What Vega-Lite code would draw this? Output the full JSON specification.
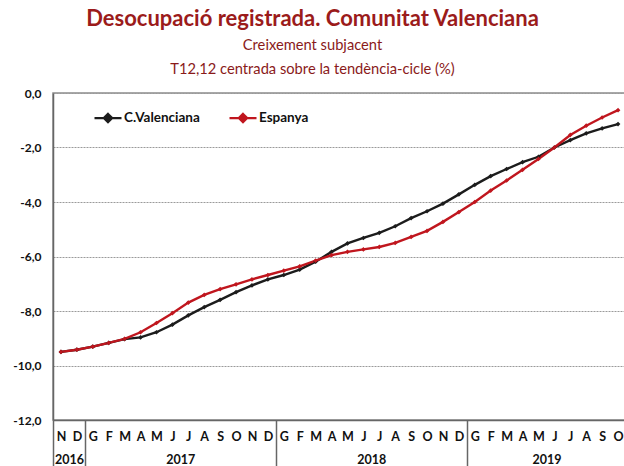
{
  "$schema": "https://vega.github.io/schema/vega-lite/v6.json",
  "width": 573,
  "height": 327,
  "autosize": {"type": "none"},
  "padding": {"left": 53, "top": 93, "right": 0, "bottom": 46},
  "background": "white",
  "title": {
    "text": "Desocupació registrada. Comunitat Valenciana",
    "subtitle": ["Creixement subjacent", "T12,12 centrada sobre la tendència-cicle (%)"],
    "anchor": "middle",
    "dx": -27,
    "font": "Lato",
    "fontSize": 22,
    "fontWeight": "bold",
    "color": "#9b1b1b",
    "subtitleFont": "Lato",
    "subtitleFontSize": 14.7,
    "subtitleColor": "#8a1a1a",
    "subtitleLineHeight": 24,
    "subtitlePadding": 7,
    "offset": 9
  },
  "config": {"view": {"stroke": "#8c8c8c", "strokeWidth": 1.5}, "font": "Lato"},
  "data": {"values": [
    {"i":0,"mes":"N","any":2016,"serie":"C.Valenciana","valor":-9.50},{"i":0,"mes":"N","any":2016,"serie":"Espanya","valor":-9.50},
    {"i":1,"mes":"D","any":2016,"serie":"C.Valenciana","valor":-9.42},{"i":1,"mes":"D","any":2016,"serie":"Espanya","valor":-9.42},
    {"i":2,"mes":"G","any":2017,"serie":"C.Valenciana","valor":-9.31},{"i":2,"mes":"G","any":2017,"serie":"Espanya","valor":-9.31},
    {"i":3,"mes":"F","any":2017,"serie":"C.Valenciana","valor":-9.17},{"i":3,"mes":"F","any":2017,"serie":"Espanya","valor":-9.17},
    {"i":4,"mes":"M","any":2017,"serie":"C.Valenciana","valor":-9.03},{"i":4,"mes":"M","any":2017,"serie":"Espanya","valor":-9.02},
    {"i":5,"mes":"A","any":2017,"serie":"C.Valenciana","valor":-8.97},{"i":5,"mes":"A","any":2017,"serie":"Espanya","valor":-8.78},
    {"i":6,"mes":"M","any":2017,"serie":"C.Valenciana","valor":-8.78},{"i":6,"mes":"M","any":2017,"serie":"Espanya","valor":-8.44},
    {"i":7,"mes":"J","any":2017,"serie":"C.Valenciana","valor":-8.50},{"i":7,"mes":"J","any":2017,"serie":"Espanya","valor":-8.08},
    {"i":8,"mes":"J","any":2017,"serie":"C.Valenciana","valor":-8.16},{"i":8,"mes":"J","any":2017,"serie":"Espanya","valor":-7.69},
    {"i":9,"mes":"A","any":2017,"serie":"C.Valenciana","valor":-7.86},{"i":9,"mes":"A","any":2017,"serie":"Espanya","valor":-7.41},
    {"i":10,"mes":"S","any":2017,"serie":"C.Valenciana","valor":-7.59},{"i":10,"mes":"S","any":2017,"serie":"Espanya","valor":-7.20},
    {"i":11,"mes":"O","any":2017,"serie":"C.Valenciana","valor":-7.31},{"i":11,"mes":"O","any":2017,"serie":"Espanya","valor":-7.02},
    {"i":12,"mes":"N","any":2017,"serie":"C.Valenciana","valor":-7.06},{"i":12,"mes":"N","any":2017,"serie":"Espanya","valor":-6.84},
    {"i":13,"mes":"D","any":2017,"serie":"C.Valenciana","valor":-6.84},{"i":13,"mes":"D","any":2017,"serie":"Espanya","valor":-6.68},
    {"i":14,"mes":"G","any":2018,"serie":"C.Valenciana","valor":-6.68},{"i":14,"mes":"G","any":2018,"serie":"Espanya","valor":-6.52},
    {"i":15,"mes":"F","any":2018,"serie":"C.Valenciana","valor":-6.48},{"i":15,"mes":"F","any":2018,"serie":"Espanya","valor":-6.36},
    {"i":16,"mes":"M","any":2018,"serie":"C.Valenciana","valor":-6.19},{"i":16,"mes":"M","any":2018,"serie":"Espanya","valor":-6.15},
    {"i":17,"mes":"A","any":2018,"serie":"C.Valenciana","valor":-5.83},{"i":17,"mes":"A","any":2018,"serie":"Espanya","valor":-5.95},
    {"i":18,"mes":"M","any":2018,"serie":"C.Valenciana","valor":-5.52},{"i":18,"mes":"M","any":2018,"serie":"Espanya","valor":-5.83},
    {"i":19,"mes":"J","any":2018,"serie":"C.Valenciana","valor":-5.32},{"i":19,"mes":"J","any":2018,"serie":"Espanya","valor":-5.74},
    {"i":20,"mes":"J","any":2018,"serie":"C.Valenciana","valor":-5.13},{"i":20,"mes":"J","any":2018,"serie":"Espanya","valor":-5.65},
    {"i":21,"mes":"A","any":2018,"serie":"C.Valenciana","valor":-4.89},{"i":21,"mes":"A","any":2018,"serie":"Espanya","valor":-5.50},
    {"i":22,"mes":"S","any":2018,"serie":"C.Valenciana","valor":-4.59},{"i":22,"mes":"S","any":2018,"serie":"Espanya","valor":-5.28},
    {"i":23,"mes":"O","any":2018,"serie":"C.Valenciana","valor":-4.34},{"i":23,"mes":"O","any":2018,"serie":"Espanya","valor":-5.06},
    {"i":24,"mes":"N","any":2018,"serie":"C.Valenciana","valor":-4.06},{"i":24,"mes":"N","any":2018,"serie":"Espanya","valor":-4.73},
    {"i":25,"mes":"D","any":2018,"serie":"C.Valenciana","valor":-3.72},{"i":25,"mes":"D","any":2018,"serie":"Espanya","valor":-4.37},
    {"i":26,"mes":"G","any":2019,"serie":"C.Valenciana","valor":-3.37},{"i":26,"mes":"G","any":2019,"serie":"Espanya","valor":-4.00},
    {"i":27,"mes":"F","any":2019,"serie":"C.Valenciana","valor":-3.05},{"i":27,"mes":"F","any":2019,"serie":"Espanya","valor":-3.58},
    {"i":28,"mes":"M","any":2019,"serie":"C.Valenciana","valor":-2.79},{"i":28,"mes":"M","any":2019,"serie":"Espanya","valor":-3.21},
    {"i":29,"mes":"A","any":2019,"serie":"C.Valenciana","valor":-2.54},{"i":29,"mes":"A","any":2019,"serie":"Espanya","valor":-2.82},
    {"i":30,"mes":"M","any":2019,"serie":"C.Valenciana","valor":-2.34},{"i":30,"mes":"M","any":2019,"serie":"Espanya","valor":-2.42},
    {"i":31,"mes":"J","any":2019,"serie":"C.Valenciana","valor":-2.00},{"i":31,"mes":"J","any":2019,"serie":"Espanya","valor":-2.00},
    {"i":32,"mes":"J","any":2019,"serie":"C.Valenciana","valor":-1.73},{"i":32,"mes":"J","any":2019,"serie":"Espanya","valor":-1.54},
    {"i":33,"mes":"A","any":2019,"serie":"C.Valenciana","valor":-1.48},{"i":33,"mes":"A","any":2019,"serie":"Espanya","valor":-1.20},
    {"i":34,"mes":"S","any":2019,"serie":"C.Valenciana","valor":-1.30},{"i":34,"mes":"S","any":2019,"serie":"Espanya","valor":-0.90},
    {"i":35,"mes":"O","any":2019,"serie":"C.Valenciana","valor":-1.14},{"i":35,"mes":"O","any":2019,"serie":"Espanya","valor":-0.63}
  ]},
  "layer": [
    {
      "mark": {"type": "line", "strokeWidth": 2.4},
      "encoding": {
        "x": {
          "field": "i", "type": "quantitative",
          "scale": {"domain": [-0.5, 35.5], "nice": false, "zero": false},
          "axis": {
            "orient": "bottom",
            "values": [0,1,2,3,4,5,6,7,8,9,10,11,12,13,14,15,16,17,18,19,20,21,22,23,24,25,26,27,28,29,30,31,32,33,34,35],
            "labelExpr": "['N','D','G','F','M','A','M','J','J','A','S','O','N','D','G','F','M','A','M','J','J','A','S','O','N','D','G','F','M','A','M','J','J','A','S','O'][datum.value]",
            "title": null, "grid": false, "ticks": false,
            "domain": true, "domainColor": "#666666", "domainWidth": 1.5,
            "labelFont": "Lato", "labelFontWeight": "bold", "labelFontSize": 12.5, "labelColor": "#111111",
            "labelPadding": 10, "labelFlush": false, "labelOverlap": false
          }
        },
        "y": {
          "field": "valor", "type": "quantitative",
          "scale": {"domain": [-12, 0], "nice": false, "zero": false},
          "axis": {
            "values": [-12, -10, -8, -6, -4, -2, 0],
            "labelExpr": "(datum.value < 0 ? '-' : '') + replace(format(abs(datum.value), '.1f'), '.', ',')",
            "title": null, "grid": true, "gridColor": "#9a9a9a", "gridDash": [2, 1], "gridWidth": 1,
            "ticks": false, "domainColor": "#666666", "domainWidth": 1.5,
            "labelFont": "Lato", "labelFontWeight": "bold", "labelFontSize": 12, "labelColor": "#111111",
            "labelPadding": 12
          }
        },
        "color": {
          "field": "serie", "type": "nominal",
          "scale": {"domain": ["C.Valenciana", "Espanya"], "range": ["#1c1c1c", "#c0161e"]},
          "legend": {
            "orient": "none", "legendX": 40, "legendY": 10, "direction": "horizontal", "title": null,
            "symbolType": "M-1,0L1,0M0,-0.3L0.3,0L0,0.3L-0.3,0Z", "symbolSize": 729, "symbolStrokeWidth": 2.4,
            "labelFont": "Lato", "labelFontWeight": "bold", "labelFontSize": 13.5, "labelColor": "#111111",
            "columnPadding": 24, "labelOffset": 1
          }
        }
      }
    },
    {
      "mark": {"type": "point", "shape": "diamond", "filled": true, "size": 22, "opacity": 1},
      "encoding": {
        "x": {
          "field": "i", "type": "quantitative",
          "axis": {
            "orient": "bottom",
            "values": [0.5, 7.5, 19.5, 30.5],
            "labelExpr": "datum.value < 1 ? '2016' : datum.value < 10 ? '2017' : datum.value < 25 ? '2018' : '2019'",
            "title": null, "grid": false, "ticks": false, "domain": false,
            "labelFont": "Lato", "labelFontWeight": "bold", "labelFontSize": 12.5, "labelColor": "#111111",
            "labelPadding": 33, "labelFlush": false, "labelOverlap": false
          }
        },
        "y": {"field": "valor", "type": "quantitative"},
        "color": {"field": "serie", "type": "nominal", "legend": null}
      }
    },
    {
      "mark": {"type": "line", "opacity": 0},
      "encoding": {
        "x": {
          "field": "i", "type": "quantitative",
          "axis": {
            "orient": "bottom",
            "values": [-0.5, 1.5, 13.5, 25.5],
            "title": null, "grid": false, "labels": false, "domain": false,
            "ticks": true, "tickSize": 46, "tickColor": "#666666", "tickWidth": 1.5
          }
        },
        "y": {"field": "valor", "type": "quantitative"},
        "detail": {"field": "serie"}
      }
    }
  ],
  "resolve": {"axis": {"x": "independent"}}
}
